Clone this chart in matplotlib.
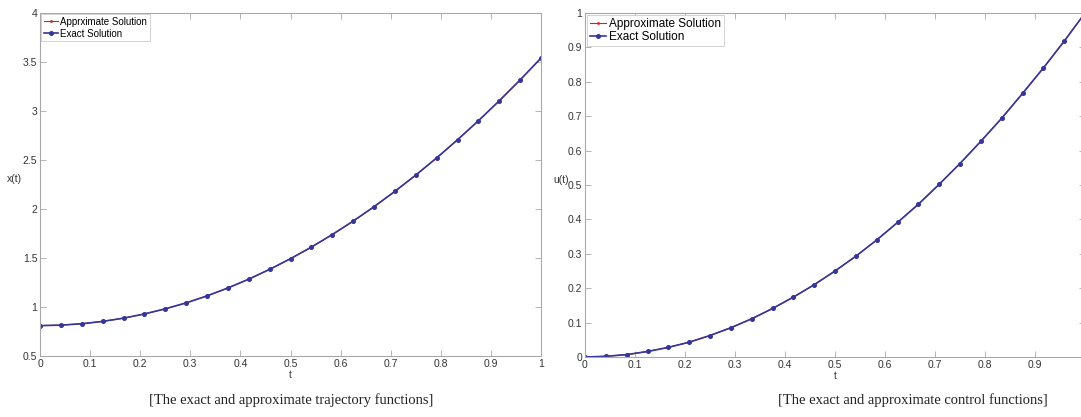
import numpy as np
import matplotlib
matplotlib.use("Agg")
import matplotlib.pyplot as plt

# sample times (25 points, step 1/24)
t = [i / 24 for i in range(25)]

# trajectory x(t)
x_exact = [0.81, 0.815, 0.829, 0.853, 0.886, 0.929, 0.981, 1.042, 1.113,
           1.194, 1.284, 1.384, 1.493, 1.611, 1.739, 1.876, 2.023, 2.180,
           2.346, 2.521, 2.706, 2.900, 3.104, 3.317, 3.54]
x_approx = x_exact

# control u(t)
u_exact = [0.0, 0.002, 0.007, 0.016, 0.028, 0.043, 0.0625, 0.085, 0.111,
           0.141, 0.174, 0.210, 0.25, 0.293, 0.340, 0.391, 0.444, 0.502,
           0.5625, 0.627, 0.694, 0.766, 0.840, 0.918, 1.0]
u_approx = u_exact

xticks = [0, 0.1, 0.2, 0.3, 0.4, 0.5, 0.6, 0.7, 0.8, 0.9, 1]
xtick_labels = ["0", "0.1", "0.2", "0.3", "0.4", "0.5", "0.6", "0.7", "0.8", "0.9", "1"]
yticks_x = [0.5, 1, 1.5, 2, 2.5, 3, 3.5, 4]
ytick_labels_x = ["0.5", "1", "1.5", "2", "2.5", "3", "3.5", "4"]
yticks_u = [0, 0.1, 0.2, 0.3, 0.4, 0.5, 0.6, 0.7, 0.8, 0.9, 1]
ytick_labels_u = ["0", "0.1", "0.2", "0.3", "0.4", "0.5", "0.6", "0.7", "0.8", "0.9", "1"]

plt.rcParams['font.family'] = ['Liberation Sans', 'DejaVu Sans']

blue = "#35369a"
red = "#d42020"
spine_col = "#a8a8a8"
txt_col = "#333333"

fig = plt.figure(figsize=(10.81, 4.17), dpi=100)
ax1 = fig.add_axes([40 / 1081, 61 / 417, 501 / 1081, 343 / 417])
ax2 = fig.add_axes([585 / 1081, 60 / 417, 500 / 1081, 344 / 417])


def style(ax, yt, ytl, xt, xtl, fs):
    ax.set_xlim(0, 1)
    ax.set_xticks(xt)
    ax.set_xticklabels(xtl)
    ax.set_yticks(yt)
    ax.set_yticklabels(ytl)
    ax.tick_params(direction="in", top=True, right=True, length=4, width=0.6,
                   colors=spine_col, labelcolor=txt_col, labelsize=fs, pad=2)
    for s in ax.spines.values():
        s.set_color(spine_col)
        s.set_linewidth(0.8)


ax1.plot(t, x_approx, color=red, lw=0.8, marker=".", ms=2, label="Apprximate Solution")
ax1.plot(t, x_exact, color=blue, lw=1.2, marker="o", ms=2.6, label="Exact Solution")
ax1.set_ylim(0.5, 4)
style(ax1, yticks_x, ytick_labels_x, xticks, xtick_labels, 7.5)
ax1.set_xlabel("t", fontsize=7, color=txt_col, labelpad=1)
ax1.set_ylabel("x(t)", fontsize=7.5, color=txt_col, rotation=0, labelpad=6)
leg1 = ax1.legend(loc="upper left", fontsize=7, handlelength=1.5, handletextpad=0.2,
                  borderpad=0.25, labelspacing=0.2, borderaxespad=0.15,
                  fancybox=False, framealpha=1)
leg1.get_frame().set_edgecolor("#cccccc")
leg1.get_frame().set_linewidth(0.6)

ax2.plot(t, u_approx, color=red, lw=0.8, marker=".", ms=2, label="Approximate Solution")
ax2.plot(t, u_exact, color=blue, lw=1.2, marker="o", ms=2.6, label="Exact Solution")
ax2.set_ylim(0, 1)
style(ax2, yticks_u, ytick_labels_u, xticks[:-1], xtick_labels[:-1], 7.5)
ax2.set_xlabel("t", fontsize=7, color=txt_col, labelpad=1)
ax2.set_ylabel("u(t)", fontsize=7.5, color=txt_col, rotation=0, labelpad=5)
leg2 = ax2.legend(loc="upper left", fontsize=8.5, handlelength=1.4, handletextpad=0.2,
                  borderpad=0.25, labelspacing=0.15, borderaxespad=0.15,
                  fancybox=False, framealpha=1)
leg2.get_frame().set_edgecolor("#cccccc")
leg2.get_frame().set_linewidth(0.6)

fig.text(291 / 1081, 1 - 400 / 417, "[The exact and approximate trajectory functions]",
         family="Liberation Serif", fontsize=10.5, ha="center", va="center", color="#222222")
fig.text(913 / 1081, 1 - 400 / 417, "[The exact and approximate control functions]",
         family="Liberation Serif", fontsize=10.5, ha="center", va="center", color="#222222")

fig.savefig("out.png", dpi=100)
